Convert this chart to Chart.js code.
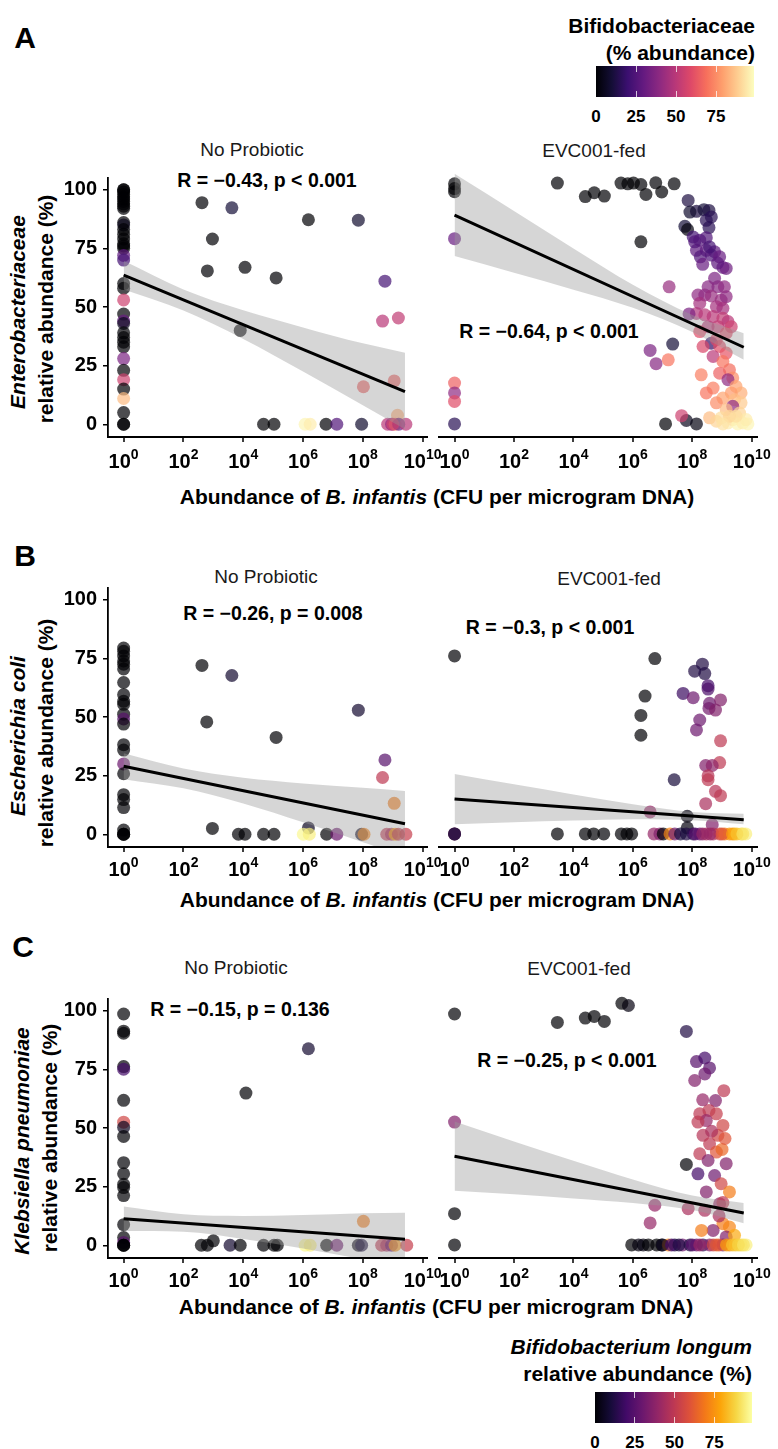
<!DOCTYPE html>
<html>
<head>
<meta charset="utf-8">
<title>Enterobacteriaceae vs B. infantis</title>
<script src="https://cdn.jsdelivr.net/npm/chart.js@4.4.1/dist/chart.umd.min.js"></script>
<style>
  body { margin: 0; background: #fff; }
  #page { position: relative; width: 778px; height: 1449px; overflow: hidden;
          font-family: "Liberation Sans", Arial, sans-serif; color: #000; }
  #page canvas { position: absolute; }
  .txt { position: absolute; white-space: nowrap; line-height: 1; font-weight: bold;
         transform: translate(-50%, -50%); }
  .right { transform: translate(-100%, -50%); }
  .rot { transform: translate(-50%, -50%) rotate(-90deg); }
  .letter { font-size: 30px; }
  .strip { font-size: 19px; font-weight: normal; color: #1a1a1a; }
  .stat { font-size: 19.5px; }
  .axt { font-size: 21px; }
  .cbl { font-size: 17px; }
  .bar { position: absolute; height: 31px; }
  .cbtick { position: absolute; width: 1px; height: 6px; background: rgba(255,255,255,0.75); }
</style>
</head>
<body>
<div id="page">
  <!-- panel letters -->
  <div class="txt letter" style="left:25px;top:38px">A</div>
  <div class="txt letter" style="left:25px;top:556px">B</div>
  <div class="txt letter" style="left:23px;top:947px">C</div>

  <!-- legends -->
  <div class="txt axt right" style="left:755px;top:25px">Bifidobacteriaceae</div>
  <div class="txt axt right" style="left:755px;top:52px">(% abundance)</div>
  <div class="txt axt right" style="left:752px;top:1346px"><i>Bifidobacterium longum</i></div>
  <div class="txt axt right" style="left:752px;top:1373px">relative abundance (%)</div>

  <!-- facet strips -->
  <div class="txt strip" style="left:252px;top:149px">No Probiotic</div>
  <div class="txt strip" style="left:594px;top:150px">EVC001-fed</div>
  <div class="txt strip" style="left:266px;top:576px">No Probiotic</div>
  <div class="txt strip" style="left:609px;top:578px">EVC001-fed</div>
  <div class="txt strip" style="left:236px;top:967px">No Probiotic</div>
  <div class="txt strip" style="left:579px;top:968px">EVC001-fed</div>

  <!-- correlation labels -->
  <div class="txt stat" style="left:267px;top:181px">R = −0.43, p &lt; 0.001</div>
  <div class="txt stat" style="left:549px;top:332px">R = −0.64, p &lt; 0.001</div>
  <div class="txt stat" style="left:273px;top:614px">R = −0.26, p = 0.008</div>
  <div class="txt stat" style="left:550px;top:628px">R = −0.3, p &lt; 0.001</div>
  <div class="txt stat" style="left:240px;top:1010px">R = −0.15, p = 0.136</div>
  <div class="txt stat" style="left:567px;top:1061px">R = −0.25, p &lt; 0.001</div>

  <!-- y axis titles -->
  <div class="txt axt rot" style="left:17px;top:312px"><i>Enterobacteriaceae</i></div>
  <div class="txt axt rot" style="left:45px;top:309px">relative abundance (%)</div>
  <div class="txt axt rot" style="left:17px;top:736px"><i>Escherichia coli</i></div>
  <div class="txt axt rot" style="left:45px;top:733px">relative abundance (%)</div>
  <div class="txt axt rot" style="left:21px;top:1141px"><i>Klebsiella pneumoniae</i></div>
  <div class="txt axt rot" style="left:49px;top:1138px">relative abundance (%)</div>

  <!-- x axis titles -->
  <div class="txt axt" style="left:437px;top:496px">Abundance of <i>B. infantis</i> (CFU per microgram DNA)</div>
  <div class="txt axt" style="left:437px;top:899px">Abundance of <i>B. infantis</i> (CFU per microgram DNA)</div>
  <div class="txt axt" style="left:436px;top:1306px">Abundance of <i>B. infantis</i> (CFU per microgram DNA)</div>
</div>

<script>
// Axis ticks
const xTickExps = [0, 2, 4, 6, 8, 10];
const yTicks = [0, 25, 50, 75, 100];
const legendTicks = [0, 25, 50, 75];
const legendMax = 98.75;

// Colour palettes (viridis magma / inferno)
const MAGMA = ['#000004', '#140e36', '#3b0f70', '#641a80', '#8c2981', '#b73779',
               '#de4968', '#f7705c', '#fe9f6d', '#fecf92', '#fcfdbf'];
const INFERNO = ['#000004', '#160b39', '#420a68', '#6a176e', '#932667', '#bc3754',
                 '#dd513a', '#f37819', '#fca50a', '#f6d746', '#fcffa4'];

// Band read positions (log10 CFU)
const leftBandLogX = [0, 2, 4, 6, 8, 9.41];
const rightBandLogX = [0, 2, 4, 6, 8, 9.73];

// ---------- A: Enterobacteriaceae, No Probiotic (colour = Bifidobacteriaceae %) ----------
// samples without B. infantis, drawn at 10^0
const entNoProbBaseY = [100, 100, 99, 98, 97, 96, 95, 94, 93, 92,
                        86, 85, 83, 81, 79, 77, 76, 75, 72, 70,
                        60, 58, 53, 47, 44, 43, 39, 37, 35, 33,
                        28, 23, 19, 15, 11, 5, 0, 0];
const entNoProbBaseC = [0, 0, 0, 0, 0, 0, 0, 0, 0, 0,
                        0, 5, 0, 0, 0, 0, 0, 0, 28, 22,
                        0, 0, 55, 0, 30, 5, 0, 0, 0, 0,
                        35, 0, 55, 0, 85, 0, 0, 0];
const entNoProbLogX = [2.62, 3.62, 2.97, 2.8, 4.06, 5.1, 6.18, 7.85, 3.9, 8.74, 8.66, 9.19, 8.02, 9.05, 9.16];
const entNoProbY    = [94.5, 92.3, 79, 65.4, 66.9, 62.4, 87.2, 87, 40, 61, 44, 45.3, 16, 18.5, 3.8];
const entNoProbC    = [0, 10, 0, 0, 0, 0, 0, 8, 0, 22, 50, 52, 65, 65, 82];
// samples with 0 % Enterobacteriaceae
const entNoProbZeroLogX = [4.68, 5.03, 6.07, 6.24, 6.77, 7.13, 7.96, 8.83, 8.96, 9.08, 9.2, 9.44, 9.0];
const entNoProbZeroC    = [0, 0, 97, 95, 0, 25, 8, 50, 40, 75, 30, 50, 55];
const entNoProbFitY  = [63.6, 13.9];
const entNoProbBandLo = [57.5, 48.5, 36.4, 22.5, 8.1, -2.1];
const entNoProbBandHi = [69.7, 57.5, 48.6, 41.3, 34.5, 30.5];

// ---------- A: Enterobacteriaceae, EVC001-fed ----------
const entEvcBaseY = [99.3, 97.3, 96, 76.6, 16.9, 12.8, 9.3, 0];
const entEvcBaseC = [0, 0, 0, 30, 65, 40, 60, 15];
const entEvcLogX = [
  3.46, 4.4, 4.7, 5.04, 5.6, 5.83, 6.02, 6.27, 6.44, 6.77, 6.97, 7.39, 6.27, 7.75, 7.84, 7.34, 7.8,
  7.86, 8.14, 8.39, 8.56, 8.47, 8.56, 7.92, 8.64,
  8.03, 8.25, 8.47, 8.14, 8.47, 8.75, 8.27, 8.64, 8.92, 9.03, 9.14, 8.58, 8.08, 8.85, 8.35,
  8.75, 8.53, 8.19, 8.42, 8.86, 9.08, 8.64, 8.97, 9.14, 8.25, 9.03, 8.81,
  8.14, 8.42, 8.7, 9.03, 9.2, 8.53, 8.86, 9.31, 8.64, 8.25, 9.14, 8.81,
  8.92, 9.14, 8.7, 9.03, 9.25, 8.92, 8.3, 9.36, 9.2, 8.36,
  8.7, 9.47, 9.64, 9.31, 8.47, 9.03, 9.42, 8.81, 9.64, 9.36, 9.14, 9.59,
  8.58, 8.81, 8.97, 9.2, 9.36, 9.53, 9.7, 9.87, 9.25, 9.03, 9.81, 9.47,
  7.22, 6.58, 6.78, 7.19, 7.89, 7.64];
const entEvcY = [
  99.6, 94, 95.6, 94.2, 99.6, 99.3, 99.6, 99, 94.9, 99.7, 95.9, 99.3, 75.3, 81.7, 80.4, 33, 1.4,
  92.4, 87.9, 88.6, 88.3, 84.2, 81.2, 87.6, 85.6,
  77.3, 76, 77, 71.8, 71.8, 71.2, 69.1, 69.8, 69.1, 64.7, 64.3, 73.2, 75.3, 66.5, 66,
  60.2, 56.7, 53.3, 53.3, 56.7, 56.7, 52.9, 51.2, 52.6, 49.9, 47.8, 48.5,
  45.7, 45.1, 44.4, 43.7, 42.3, 40.2, 40.2, 40.2, 33.4, 38.2, 37.5, 34.8,
  32, 29.3, 27.9, 25.8, 22.4, 21, 20.3, 19, 18.3, 32,
  14.8, 15.5, 12.8, 12.8, 12.8, 10.7, 10, 8.7, 8.7, 7.3, 5.9, 4.5,
  2.5, 1.1, 2.5, 0.4, 1.8, 0, 0.4, 0, 3.2, 0, 1.8, 3.2,
  56.7, 30.4, 24.9, 26.5, 45.5, 3.4];
const entEvcC = [
  0, 0, 0, 0, 0, 0, 0, 0, 0, 0, 0, 0, 0, 10, 2, 10, 5,
  12, 12, 10, 12, 15, 15, 8, 15,
  22, 25, 25, 28, 28, 28, 25, 25, 30, 30, 32, 22, 25, 28, 30,
  35, 38, 40, 40, 38, 40, 42, 42, 40, 45, 45, 45,
  48, 50, 50, 52, 50, 50, 52, 55, 18, 60, 60, 58,
  60, 62, 50, 70, 68, 65, 72, 75, 40, 58,
  72, 80, 82, 78, 70, 80, 85, 75, 88, 40, 85, 90,
  85, 90, 92, 95, 93, 97, 95, 97, 90, 93, 95, 92,
  42, 35, 38, 70, 35, 55];
const entEvcZeroLogX = [7.1, 8.14];
const entEvcZeroC    = [0, 3];
const entEvcFitY  = [86.3, 31.7];
const entEvcBandLo = [69.4, 62.5, 55.5, 48, 38, 26.5];
const entEvcBandHi = [103.4, 88, 72.5, 57.5, 45, 37.5];

// ---------- B: Escherichia coli, No Probiotic (colour = B. longum %) ----------
const ecoliNoProbBaseY = [79.4, 78, 76, 73.9, 72.5, 70.5, 64.7, 59.5, 56.7, 55.4,
                          51.2, 49.2, 47, 38.2, 35.9, 30, 25.8, 16.9, 14.8, 11.4,
                          1.8, 0, 0, 0];
const ecoliNoProbBaseC = [0, 0, 0, 0, 0, 0, 0, 0, 0, 0,
                          0, 25, 0, 0, 0, 30, 0, 0, 0, 0,
                          0, 0, 0, 0];
const ecoliNoProbLogX = [2.62, 3.62, 2.78, 5.1, 7.85, 8.74, 8.66, 9.05, 2.97, 6.18];
const ecoliNoProbY    = [72, 67.7, 47.9, 41.3, 52.9, 31.7, 24.2, 13.2, 2.5, 2.7];
const ecoliNoProbC    = [0, 8, 0, 0, 8, 25, 50, 70, 0, 5];
const ecoliNoProbZeroLogX = [3.84, 4.06, 4.68, 5.03, 6.01, 6.21, 6.79, 7.13, 7.96, 8.04, 8.8, 8.96, 9.08, 9.19, 9.44];
const ecoliNoProbZeroC    = [0, 0, 0, 0, 97, 95, 0, 30, 5, 72, 50, 45, 80, 50, 52];
const ecoliNoProbFitY  = [29, 4.5];
const ecoliNoProbBandLo = [23.5, 19.6, 13.1, 5.1, -3.4, -9.5];
const ecoliNoProbBandHi = [34.5, 28, 24.1, 21.7, 19.8, 18.5];

// ---------- B: Escherichia coli, EVC001-fed ----------
const ecoliEvcBaseY = [73.6, 0, 0, 0];
const ecoliEvcBaseC = [0, 0, 35, 10];
const ecoliEvcLogX = [
  6.74, 6.41, 6.27, 6.27, 7.39, 7.83,
  8.34, 8.08, 8.42, 8.53, 8.53, 7.69, 8.03, 8.58, 8.95, 8.56, 8.78, 8.25, 8.14,
  8.95, 8.45, 8.92, 8.67, 8.53, 8.53, 8.78, 8.95, 8.45, 8.67, 6.58, 7.83];
const ecoliEvcY = [
  72.5, 57, 49, 40.8, 22.4, 7.3,
  70.2, 67.3, 66.3, 61.3, 59.9, 58.1, 56.3, 54, 55.4, 51.9, 51.2, 47.1, 43,
  38.5, 28.3, 29.5, 28.3, 24, 22.4, 17.6, 15.8, 12.5, 3.8, 9.1, 2.5];
const ecoliEvcC = [
  0, 0, 0, 0, 10, 2,
  12, 12, 12, 20, 22, 18, 30, 30, 35, 32, 35, 30, 30,
  50, 35, 50, 38, 48, 50, 48, 50, 45, 35, 40, 2];
const ecoliEvcZeroLogX = [3.46, 4.4, 4.68, 5.02, 5.61, 5.8, 5.96,
                          6.71, 6.91, 7.02, 7.25, 7.41, 7.8, 8.03, 8.25, 8.47, 8.7,
                          8.92, 9.09, 9.25, 9.42, 9.64, 9.8,
                          7.6, 8.6, 9.0, 9.35, 9.5, 9.7, 8.1, 8.35];
const ecoliEvcZeroC    = [0, 0, 0, 0, 0, 0, 0,
                          40, 35, 0, 72, 30, 12, 15, 30, 45, 45,
                          55, 70, 75, 82, 90, 95,
                          10, 40, 60, 78, 85, 92, 25, 40];
const ecoliEvcFitY  = [14.4, 5.9];
const ecoliEvcBandLo = [4, 4.8, 5.5, 6.1, 5.7, 4.0];
const ecoliEvcBandHi = [24.8, 20.5, 16.3, 12.3, 9.1, 8.3];

// ---------- C: Klebsiella pneumoniae, No Probiotic ----------
const klebNoProbBaseY = [98.6, 91.3, 90.4, 76.2, 75.1, 61.8, 52.5, 50.3, 46.4, 35.2,
                         30.5, 26, 24.6, 21.2, 8.8, 3.3, 1.2, 0, 0, 0];
const klebNoProbBaseC = [0, 0, 0, 0, 20, 0, 55, 5, 0, 0,
                         0, 0, 0, 0, 0, 0, 25, 0, 0, 0];
const klebNoProbLogX = [6.18, 4.09, 8.02, 3.0];
const klebNoProbY    = [83.8, 64.9, 10.2, 1.9];
const klebNoProbC    = [8, 0, 70, 0];
const klebNoProbZeroLogX = [2.6, 2.8, 3.56, 3.9, 4.68, 5.03, 5.14, 6.07, 6.24, 6.79, 7.13, 7.85, 7.96, 8.63, 8.8, 8.96, 9.08, 9.47];
const klebNoProbZeroC    = [0, 0, 8, 0, 0, 0, 0, 97, 95, 0, 30, 3, 10, 50, 45, 30, 75, 52];
const klebNoProbFitY  = [11.3, 2.6];
const klebNoProbBandLo = [6.1, 5.8, 2.7, -1.4, -5.9, -8.7];
const klebNoProbBandHi = [16.5, 13.2, 12.5, 12.9, 13.7, 13.9];

// ---------- C: Klebsiella pneumoniae, EVC001-fed ----------
const klebEvcBaseY = [95.5, 50.8, 12.9, 0];
const klebEvcBaseC = [0, 35, 0, 0];
const klebEvcLogX = [
  3.46, 4.4, 4.7, 5.04, 5.63, 5.85, 7.8, 7.8,
  8.14, 8.42, 8.58, 8.42, 8.08, 9.06, 8.78, 8.56, 8.25, 8.81,
  8.47, 8.19, 9.03, 8.86, 8.36, 8.58, 8.25, 8.81, 9.0, 9.14,
  8.53, 8.19, 8.75, 8.97, 9.25, 8.47, 8.92, 9.03, 7.86, 8.42,
  6.74, 6.58, 9.03, 9.25, 8.7, 8.31, 9.14, 9.42, 8.9, 8.65,
  9.1, 8.35];
const klebEvcY = [
  92, 93.8, 94.5, 92.4, 99.9, 99, 88.3, 33.3,
  75.8, 77.3, 73.2, 70.7, 68, 63.8, 59.7, 55.6, 54.2, 54.2,
  51.4, 50.8, 49.4, 45.3, 45.3, 41.8, 37.7, 38.4, 39.5, 33.6,
  34.9, 29.4, 28.7, 25.3, 21.9, 21.9, 17, 17.5, 15, 14.3,
  16.4, 9.1, 8.8, 7.4, 6, 6, 3.3, 4, 12, 47,
  44, 60];
const klebEvcC = [
  0, 0, 0, 0, 0, 2, 12, 0,
  25, 20, 25, 30, 35, 50, 35, 50, 50, 52,
  40, 50, 55, 55, 48, 50, 50, 60, 65, 35,
  35, 20, 30, 55, 70, 35, 40, 50, 45, 45,
  40, 40, 70, 72, 35, 70, 35, 80, 45, 45,
  60, 40];
const klebEvcZeroLogX = [5.96, 6.19, 6.35, 6.52, 6.8, 6.97, 7.19, 7.41, 7.67, 7.92,
                         8.14, 8.36, 8.58, 8.81, 9.03, 9.25, 9.45, 9.64, 9.81, 7.0,
                         7.3, 7.55, 8.0, 8.25, 8.7, 8.9, 9.15, 9.35, 9.55, 9.72];
const klebEvcZeroC    = [0, 2, 2, 0, 0, 0, 72, 10, 30, 12,
                         30, 15, 35, 70, 35, 70, 85, 90, 95, 5,
                         20, 12, 25, 40, 55, 60, 78, 85, 88, 92];
const klebEvcFitY  = [36.7, 13.2];
const klebEvcBandLo = [22.4, 21, 19.2, 17.3, 14.4, 9];
const klebEvcBandHi = [51, 42.8, 34.8, 27.1, 20.4, 17.3];

const page = document.getElementById('page');
const FONT = '"Liberation Sans", Arial, sans-serif';

function hexRgb(h) {
  return [parseInt(h.slice(1, 3), 16), parseInt(h.slice(3, 5), 16), parseInt(h.slice(5, 7), 16)];
}

function paletteColor(stops, t, alpha) {
  t = Math.max(0, Math.min(1, t));
  const p = t * (stops.length - 1);
  const i = Math.min(Math.floor(p), stops.length - 2);
  const f = p - i;
  const a = hexRgb(stops[i]), b = hexRgb(stops[i + 1]);
  const c = a.map((v, k) => Math.round(v + (b[k] - v) * f));
  return `rgba(${c[0]},${c[1]},${c[2]},${alpha})`;
}

// x axis line, tick marks and 10^k labels (superscript exponent)
const logAxis = {
  id: 'logAxis',
  afterDraw(chart, args, opts) {
    const sc = chart.scales.x;
    const ca = chart.chartArea;
    const ctx = chart.ctx;
    const base = ca.bottom + opts.offset;
    ctx.save();
    ctx.globalAlpha = 1;
    ctx.fillStyle = '#000';
    // axis line
    ctx.fillRect(ca.left - 1, ca.bottom, ca.right - ca.left + 1, 2);
    ctx.textAlign = 'left';
    ctx.textBaseline = 'alphabetic';
    xTickExps.forEach(e => {
      const px = sc.getPixelForValue(Math.pow(10, e));
      ctx.fillRect(Math.round(px) - 0.75, ca.bottom + 2, 1.5, 4);
      ctx.font = 'bold 20px ' + FONT;
      const w1 = ctx.measureText('10').width;
      ctx.font = 'bold 14px ' + FONT;
      const w2 = ctx.measureText(String(e)).width;
      const x0 = px - (w1 + w2) / 2;
      ctx.font = 'bold 20px ' + FONT;
      ctx.fillText('10', x0, base);
      ctx.font = 'bold 14px ' + FONT;
      ctx.fillText(String(e), x0 + w1, base - 9);
    });
    ctx.restore();
  }
};

function makePanel(p) {
  const isLeft = p.side === 'L';
  const left = isLeft ? 40 : 419;
  const w = isLeft ? 410 : 359;
  const h = 10 + 266 + 45;
  const cv = document.createElement('canvas');
  cv.width = w;
  cv.height = h;
  cv.style.left = left + 'px';
  cv.style.top = (p.rowTop - 10) + 'px';
  cv.style.width = w + 'px';
  cv.style.height = h + 'px';
  page.appendChild(cv);

  // build points from the value arrays
  const pts = [], vals = [];
  p.baseY.forEach((y, i) => { pts.push({ x: 1, y: y }); vals.push(p.baseC[i]); });
  p.logX.forEach((e, i) => { pts.push({ x: Math.pow(10, e), y: p.y[i] }); vals.push(p.c[i]); });
  p.zeroLogX.forEach((e, i) => { pts.push({ x: Math.pow(10, e), y: 0 }); vals.push(p.zeroC[i]); });
  const colors = vals.map(v => paletteColor(p.palette, v / legendMax, 0.7));

  const bandX = isLeft ? leftBandLogX : rightBandLogX;
  const lo = bandX.map((e, i) => ({ x: Math.pow(10, e), y: p.bandLo[i] }));
  const hi = bandX.map((e, i) => ({ x: Math.pow(10, e), y: p.bandHi[i] }));
  const fitEnd = bandX[bandX.length - 1];
  const fit = [{ x: 1, y: p.fitY[0] }, { x: Math.pow(10, fitEnd), y: p.fitY[1] }];

  const yScale = {
    type: 'linear',
    min: -5,
    max: 105,
    display: isLeft,
    afterBuildTicks: ax => { ax.ticks = yTicks.map(v => ({ value: v })); },
    ticks: { color: '#000', padding: 6, font: { family: FONT, size: 20, weight: 'bold' } },
    grid: { drawOnChartArea: false, drawTicks: true, tickLength: 5, color: '#000', lineWidth: 1.5 },
    border: { display: true, color: '#000', width: 1.8 }
  };
  if (isLeft) yScale.afterFit = ax => { ax.width = 68; };

  new Chart(cv, {
    type: 'scatter',
    data: {
      datasets: [
        { data: pts, backgroundColor: colors, borderColor: 'rgba(0,0,0,0)', borderWidth: 0,
          pointRadius: 6.5, pointHoverRadius: 6.5, order: 3 },
        { type: 'line', data: hi, borderColor: 'rgba(0,0,0,0)', pointRadius: 0, fill: false,
          cubicInterpolationMode: 'monotone', order: 2 },
        { type: 'line', data: lo, borderColor: 'rgba(0,0,0,0)', pointRadius: 0, fill: '-1',
          backgroundColor: 'rgba(153,153,153,0.4)', cubicInterpolationMode: 'monotone', order: 1 },
        { type: 'line', data: fit, borderColor: '#000', borderWidth: 3, pointRadius: 0, fill: false, order: 0 }
      ]
    },
    options: {
      responsive: false,
      animation: false,
      devicePixelRatio: 1,
      events: [],
      layout: { padding: isLeft ? { top: 10, left: 0, right: 22, bottom: 0 } : { top: 10, left: 20, right: 20, bottom: 0 } },
      plugins: {
        legend: { display: false },
        tooltip: { enabled: false },
        logAxis: { offset: p.labelOffset }
      },
      scales: {
        x: {
          type: 'logarithmic',
          min: Math.pow(10, isLeft ? -0.51 : -0.48),
          max: Math.pow(10, isLeft ? 10.18 : 10.21),
          afterBuildTicks: ax => { ax.ticks = xTickExps.map(e => ({ value: Math.pow(10, e) })); },
          afterFit: ax => { ax.height = 45; },
          ticks: { autoSkip: false, maxRotation: 0, callback: () => '', font: { size: 8 } },
          grid: { display: false },
          border: { display: false }
        },
        y: yScale
      }
    },
    plugins: [logAxis]
  });
}

function colorbar(left, top, width, palette, labelY) {
  const bar = document.createElement('div');
  bar.className = 'bar';
  bar.style.left = left + 'px';
  bar.style.top = top + 'px';
  bar.style.width = width + 'px';
  bar.style.background = 'linear-gradient(to right, ' + palette.join(', ') + ')';
  page.appendChild(bar);
  legendTicks.forEach(v => {
    const x = left + v / legendMax * width;
    if (v > 0) {
      [top, top + 31 - 6].forEach(ty => {
        const t = document.createElement('div');
        t.className = 'cbtick';
        t.style.left = (x - 0.5) + 'px';
        t.style.top = ty + 'px';
        page.appendChild(t);
      });
    }
    const lab = document.createElement('div');
    lab.className = 'txt cbl';
    lab.style.left = x + 'px';
    lab.style.top = labelY + 'px';
    lab.textContent = String(v);
    page.appendChild(lab);
  });
}

Chart.defaults.font.family = FONT;

makePanel({ side: 'L', rowTop: 170, palette: MAGMA, labelOffset: 32,
  baseY: entNoProbBaseY, baseC: entNoProbBaseC, logX: entNoProbLogX, y: entNoProbY, c: entNoProbC,
  zeroLogX: entNoProbZeroLogX, zeroC: entNoProbZeroC,
  fitY: entNoProbFitY, bandLo: entNoProbBandLo, bandHi: entNoProbBandHi });
makePanel({ side: 'R', rowTop: 170, palette: MAGMA, labelOffset: 32,
  baseY: entEvcBaseY, baseC: entEvcBaseC, logX: entEvcLogX, y: entEvcY, c: entEvcC,
  zeroLogX: entEvcZeroLogX, zeroC: entEvcZeroC,
  fitY: entEvcFitY, bandLo: entEvcBandLo, bandHi: entEvcBandHi });
makePanel({ side: 'L', rowTop: 580, palette: INFERNO, labelOffset: 30,
  baseY: ecoliNoProbBaseY, baseC: ecoliNoProbBaseC, logX: ecoliNoProbLogX, y: ecoliNoProbY, c: ecoliNoProbC,
  zeroLogX: ecoliNoProbZeroLogX, zeroC: ecoliNoProbZeroC,
  fitY: ecoliNoProbFitY, bandLo: ecoliNoProbBandLo, bandHi: ecoliNoProbBandHi });
makePanel({ side: 'R', rowTop: 580, palette: INFERNO, labelOffset: 30,
  baseY: ecoliEvcBaseY, baseC: ecoliEvcBaseC, logX: ecoliEvcLogX, y: ecoliEvcY, c: ecoliEvcC,
  zeroLogX: ecoliEvcZeroLogX, zeroC: ecoliEvcZeroC,
  fitY: ecoliEvcFitY, bandLo: ecoliEvcBandLo, bandHi: ecoliEvcBandHi });
makePanel({ side: 'L', rowTop: 991, palette: INFERNO, labelOffset: 30,
  baseY: klebNoProbBaseY, baseC: klebNoProbBaseC, logX: klebNoProbLogX, y: klebNoProbY, c: klebNoProbC,
  zeroLogX: klebNoProbZeroLogX, zeroC: klebNoProbZeroC,
  fitY: klebNoProbFitY, bandLo: klebNoProbBandLo, bandHi: klebNoProbBandHi });
makePanel({ side: 'R', rowTop: 991, palette: INFERNO, labelOffset: 30,
  baseY: klebEvcBaseY, baseC: klebEvcBaseC, logX: klebEvcLogX, y: klebEvcY, c: klebEvcC,
  zeroLogX: klebEvcZeroLogX, zeroC: klebEvcZeroC,
  fitY: klebEvcFitY, bandLo: klebEvcBandLo, bandHi: klebEvcBandHi });

colorbar(596, 66, 158, MAGMA, 115.5);
colorbar(595, 1392, 157, INFERNO, 1442);
</script>
</body>
</html>
